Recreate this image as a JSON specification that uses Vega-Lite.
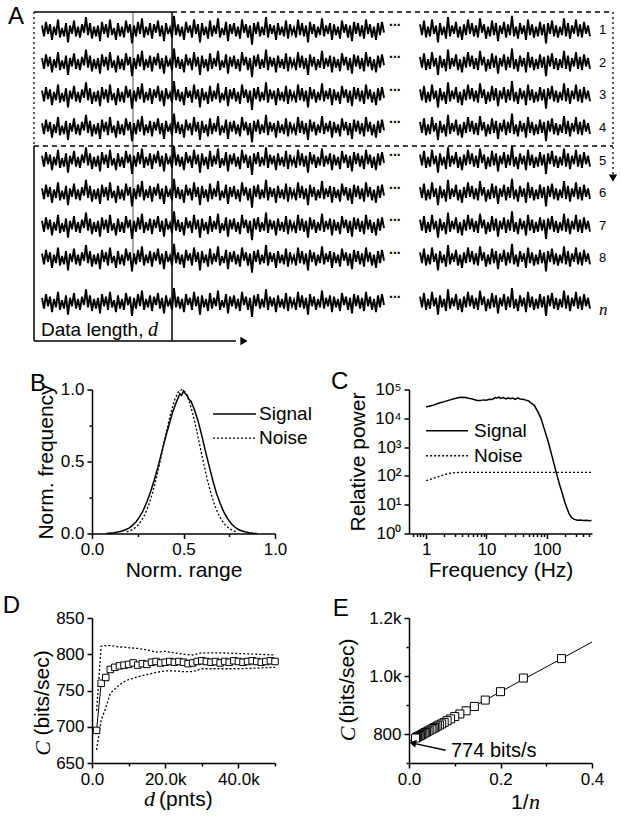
{
"$schema":"https://vega.github.io/schema/vega-lite/v6.json",
"padding":{"left":2,"top":4,"right":2,"bottom":2},
"background":"white",
"config":{
 "view":{"stroke":null},
 "font":"Liberation Sans",
 "axis":{"domainColor":"black","domainWidth":1.5,"tickColor":"black","tickWidth":1.5,"tickSize":5,"labelColor":"black","labelFont":"Liberation Sans","labelFontSize":17,"labelPadding":3,"labelFlush":false,"labelOverlap":false,"titleFont":"Liberation Sans","titleFontSize":21,"titleFontWeight":"normal","titleColor":"black","grid":false},
 "text":{"font":"Liberation Sans","color":"black"},
 "line":{"color":"black"},
 "rule":{"color":"black"}
},
"datasets":{
 "trace":[
{"s":"L","x":4,"v":0.4},{"s":"L","x":5,"v":-0.5},{"s":"L","x":6,"v":0.7},{"s":"L","x":7,"v":-0.3},{"s":"L","x":8,"v":0.5},{"s":"L","x":9,"v":-0.8},{"s":"L","x":10,"v":0.3},{"s":"L","x":11,"v":-0.4},{"s":"L","x":12,"v":0.9},{"s":"L","x":13,"v":-0.6},{"s":"L","x":14,"v":0.2},{"s":"L","x":15,"v":-0.5},{"s":"L","x":16,"v":0.6},{"s":"L","x":17,"v":-1.0},{"s":"L","x":18,"v":0.4},{"s":"L","x":19,"v":-0.3},{"s":"L","x":20,"v":0.8},{"s":"L","x":21,"v":-0.5},{"s":"L","x":22,"v":0.3},{"s":"L","x":23,"v":-0.6},
{"s":"L","x":24,"v":0.5},{"s":"L","x":25,"v":-0.2},{"s":"L","x":26,"v":1.1},{"s":"L","x":27,"v":-0.4},{"s":"L","x":28,"v":0.6},{"s":"L","x":29,"v":-0.7},{"s":"L","x":30,"v":0.3},{"s":"L","x":31,"v":-0.5},{"s":"L","x":32,"v":0.4},{"s":"L","x":33,"v":-0.9},{"s":"L","x":34,"v":0.7},{"s":"L","x":35,"v":-0.3},{"s":"L","x":36,"v":0.5},{"s":"L","x":37,"v":-0.6},{"s":"L","x":38,"v":0.9},{"s":"L","x":39,"v":-0.4},{"s":"L","x":40,"v":0.2},{"s":"L","x":41,"v":-0.8},{"s":"L","x":42,"v":0.6},{"s":"L","x":43,"v":-0.5},
{"s":"L","x":44,"v":0.3},{"s":"L","x":45,"v":-0.6},{"s":"L","x":46,"v":0.8},{"s":"L","x":47,"v":-0.2},{"s":"L","x":48,"v":0.5},{"s":"L","x":49,"v":-1.1},{"s":"L","x":50,"v":0.4},{"s":"L","x":51,"v":-0.5},{"s":"L","x":52,"v":0.7},{"s":"L","x":53,"v":-0.3},{"s":"L","x":54,"v":1.0},{"s":"L","x":55,"v":-0.6},{"s":"L","x":56,"v":0.3},{"s":"L","x":57,"v":-0.4},{"s":"L","x":58,"v":0.6},{"s":"L","x":59,"v":-0.7},{"s":"L","x":60,"v":0.5},{"s":"L","x":61,"v":-0.2},{"s":"L","x":62,"v":0.8},{"s":"L","x":63,"v":-0.5},
{"s":"L","x":64,"v":0.4},{"s":"L","x":65,"v":-0.9},{"s":"L","x":66,"v":0.6},{"s":"L","x":67,"v":-0.3},{"s":"L","x":68,"v":0.2},{"s":"L","x":69,"v":-0.6},{"s":"L","x":70,"v":1.2},{"s":"L","x":71,"v":-0.4},{"s":"L","x":72,"v":0.5},{"s":"L","x":73,"v":-0.5},{"s":"L","x":74,"v":0.3},{"s":"L","x":75,"v":-0.8},{"s":"L","x":76,"v":0.7},{"s":"L","x":77,"v":-0.2},{"s":"L","x":78,"v":0.4},{"s":"L","x":79,"v":-0.6},{"s":"L","x":80,"v":0.9},{"s":"L","x":81,"v":-0.3},{"s":"L","x":82,"v":0.5},{"s":"L","x":83,"v":-1.0},
{"s":"L","x":84,"v":0.6},{"s":"L","x":85,"v":-0.4},{"s":"L","x":86,"v":0.3},{"s":"L","x":87,"v":-0.7},{"s":"L","x":88,"v":0.8},{"s":"L","x":89,"v":-0.5},{"s":"L","x":90,"v":0.4},{"s":"L","x":91,"v":-0.3},{"s":"L","x":92,"v":1.0},{"s":"L","x":93,"v":-0.6},{"s":"L","x":94,"v":0.2},{"s":"L","x":95,"v":-0.4},{"s":"L","x":96,"v":0.7},{"s":"L","x":97,"v":-0.9},{"s":"L","x":98,"v":0.5},{"s":"L","x":99,"v":-0.3},{"s":"L","x":100,"v":0.6},{"s":"L","x":101,"v":-0.5},{"s":"L","x":102,"v":0.3},{"s":"L","x":103,"v":-0.7},
{"s":"L","x":104,"v":0.9},{"s":"L","x":105,"v":-0.2},{"s":"L","x":106,"v":0.5},{"s":"L","x":107,"v":-0.6},{"s":"L","x":108,"v":0.4},{"s":"L","x":109,"v":-1.2},{"s":"L","x":110,"v":0.6},{"s":"L","x":111,"v":-0.3},{"s":"L","x":112,"v":0.7},{"s":"L","x":113,"v":-0.5},{"s":"L","x":114,"v":0.3},{"s":"L","x":115,"v":-0.4},{"s":"L","x":116,"v":1.1},{"s":"L","x":117,"v":-0.6},{"s":"L","x":118,"v":0.5},{"s":"L","x":119,"v":-0.3},{"s":"L","x":120,"v":0.4},{"s":"L","x":121,"v":-0.8},{"s":"L","x":122,"v":0.6},{"s":"L","x":123,"v":-0.4},
{"s":"L","x":124,"v":0.3},{"s":"L","x":125,"v":-0.5},{"s":"L","x":126,"v":0.8},{"s":"L","x":127,"v":-0.7},{"s":"L","x":128,"v":0.5},{"s":"L","x":129,"v":-0.3},{"s":"L","x":130,"v":0.2},{"s":"L","x":131,"v":-0.6},{"s":"L","x":132,"v":0.9},{"s":"L","x":133,"v":-0.4},{"s":"L","x":134,"v":0.6},{"s":"L","x":135,"v":-0.5},{"s":"L","x":136,"v":0.4},{"s":"L","x":137,"v":-1.0},{"s":"L","x":138,"v":0.7},{"s":"L","x":139,"v":-0.3},{"s":"L","x":140,"v":0.5},{"s":"L","x":141,"v":-0.6},{"s":"L","x":142,"v":0.3},{"s":"L","x":143,"v":-0.4},
{"s":"L","x":144,"v":1.0},{"s":"L","x":145,"v":-0.5},{"s":"L","x":146,"v":0.4},{"s":"L","x":147,"v":-0.3},{"s":"L","x":148,"v":0.6},{"s":"L","x":149,"v":-0.8},{"s":"L","x":150,"v":0.5},{"s":"L","x":151,"v":-0.4},{"s":"L","x":152,"v":0.3},{"s":"L","x":153,"v":-0.7},{"s":"L","x":154,"v":0.8},{"s":"L","x":155,"v":-0.2},{"s":"L","x":156,"v":0.5},{"s":"L","x":157,"v":-0.6},{"s":"L","x":158,"v":0.4},{"s":"L","x":159,"v":-0.9},{"s":"L","x":160,"v":0.7},{"s":"L","x":161,"v":-0.3},{"s":"L","x":162,"v":0.6},{"s":"L","x":163,"v":-0.5},
{"s":"L","x":164,"v":0.4},{"s":"L","x":165,"v":-0.7},{"s":"L","x":166,"v":0.9},{"s":"L","x":167,"v":-0.3},{"s":"L","x":168,"v":0.5},{"s":"L","x":169,"v":-0.6},{"s":"L","x":170,"v":0.3},{"s":"L","x":171,"v":-0.8},{"s":"L","x":172,"v":0.6},{"s":"L","x":173,"v":-0.4},{"s":"L","x":174,"v":0.7},{"s":"L","x":175,"v":-0.2},
{"s":"R","x":193,"v":0.5},{"s":"R","x":194,"v":-0.4},{"s":"R","x":195,"v":0.8},{"s":"R","x":196,"v":-0.6},{"s":"R","x":197,"v":0.3},{"s":"R","x":198,"v":-0.5},{"s":"R","x":199,"v":0.9},{"s":"R","x":200,"v":-0.3},{"s":"R","x":201,"v":0.4},{"s":"R","x":202,"v":-1.0},{"s":"R","x":203,"v":0.6},{"s":"R","x":204,"v":-0.4},{"s":"R","x":205,"v":0.3},{"s":"R","x":206,"v":-0.7},{"s":"R","x":207,"v":1.1},{"s":"R","x":208,"v":-0.5},{"s":"R","x":209,"v":0.4},{"s":"R","x":210,"v":-0.3},{"s":"R","x":211,"v":0.7},{"s":"R","x":212,"v":-0.6},
{"s":"R","x":213,"v":0.3},{"s":"R","x":214,"v":-0.8},{"s":"R","x":215,"v":0.5},{"s":"R","x":216,"v":-0.4},{"s":"R","x":217,"v":0.9},{"s":"R","x":218,"v":-0.3},{"s":"R","x":219,"v":0.6},{"s":"R","x":220,"v":-0.5},{"s":"R","x":221,"v":0.4},{"s":"R","x":222,"v":-0.6},{"s":"R","x":223,"v":1.0},{"s":"R","x":224,"v":-0.2},{"s":"R","x":225,"v":0.5},{"s":"R","x":226,"v":-0.7},{"s":"R","x":227,"v":0.3},{"s":"R","x":228,"v":-0.5},{"s":"R","x":229,"v":0.8},{"s":"R","x":230,"v":-0.4},{"s":"R","x":231,"v":0.6},{"s":"R","x":232,"v":-0.9},
{"s":"R","x":233,"v":0.4},{"s":"R","x":234,"v":-0.3},{"s":"R","x":235,"v":0.7},{"s":"R","x":236,"v":-0.6},{"s":"R","x":237,"v":0.5},{"s":"R","x":238,"v":-0.4},{"s":"R","x":239,"v":1.2},{"s":"R","x":240,"v":-0.5},{"s":"R","x":241,"v":0.3},{"s":"R","x":242,"v":-0.7},{"s":"R","x":243,"v":0.6},{"s":"R","x":244,"v":-0.3},{"s":"R","x":245,"v":0.4},{"s":"R","x":246,"v":-0.8},{"s":"R","x":247,"v":0.9},{"s":"R","x":248,"v":-0.4},{"s":"R","x":249,"v":0.5},{"s":"R","x":250,"v":-0.6},{"s":"R","x":251,"v":0.3},{"s":"R","x":252,"v":-0.5},
{"s":"R","x":253,"v":0.7},{"s":"R","x":254,"v":-0.4},{"s":"R","x":255,"v":0.5},{"s":"R","x":256,"v":-1.1},{"s":"R","x":257,"v":0.6},{"s":"R","x":258,"v":-0.3},{"s":"R","x":259,"v":0.8},{"s":"R","x":260,"v":-0.5},{"s":"R","x":261,"v":0.4},{"s":"R","x":262,"v":-0.6},{"s":"R","x":263,"v":0.3},{"s":"R","x":264,"v":-0.4},{"s":"R","x":265,"v":1.0},{"s":"R","x":266,"v":-0.5},{"s":"R","x":267,"v":0.6},{"s":"R","x":268,"v":-0.7},{"s":"R","x":269,"v":0.4},{"s":"R","x":270,"v":-0.3},{"s":"R","x":271,"v":0.9},{"s":"R","x":272,"v":-0.5},
{"s":"R","x":273,"v":0.5},{"s":"R","x":274,"v":-0.6},{"s":"R","x":275,"v":0.7},{"s":"R","x":276,"v":-0.3},{"s":"R","x":277,"v":0.4},{"s":"R","x":278,"v":-0.5}
 ],
 "dmean":[
{"d":1250,"c":695},{"d":2500,"c":760},{"d":3750,"c":768},{"d":5000,"c":779},{"d":6250,"c":782},{"d":7500,"c":784},{"d":8750,"c":785},{"d":10000,"c":786},{"d":11250,"c":788},{"d":12500,"c":785},{"d":13750,"c":787},{"d":15000,"c":786},{"d":16250,"c":789},{"d":17500,"c":790},{"d":18750,"c":788},{"d":20000,"c":789},{"d":21250,"c":790},{"d":22500,"c":789},{"d":23750,"c":790},{"d":25000,"c":789},{"d":26250,"c":787},{"d":27500,"c":788},{"d":28750,"c":790},{"d":30000,"c":791},{"d":31250,"c":790},{"d":32500,"c":789},{"d":33750,"c":790},{"d":35000,"c":788},{"d":36250,"c":790},{"d":37500,"c":789},{"d":38750,"c":791},{"d":40000,"c":790},{"d":41250,"c":789},{"d":42500,"c":790},{"d":43750,"c":791},{"d":45000,"c":790},{"d":46250,"c":789},{"d":47500,"c":790},{"d":48750,"c":791},{"d":50000,"c":790}
 ]
},
"bounds":"flush",
"spacing":47.5,
"vconcat":[
 {
  "width":580,"height":330,
  "resolve":{"scale":{"y":"independent"}},
  "layer":[
   {"data":{"name":"trace"},"mark":{"type":"line","strokeWidth":1.9},"encoding":{"x":{"field":"x","type":"quantitative","scale":{"domain":[0,290],"nice":false,"zero":false},"axis":null},"y":{"field":"v","type":"quantitative","scale":{"domain":[-25.975,1.525],"nice":false,"zero":false},"axis":null},"detail":{"field":"s"}}},
   {"data":{"name":"trace"},"mark":{"type":"line","strokeWidth":1.9},"encoding":{"x":{"field":"x","type":"quantitative","scale":{"domain":[0,290],"nice":false,"zero":false},"axis":null},"y":{"field":"v","type":"quantitative","scale":{"domain":[-23.261,4.239],"nice":false,"zero":false},"axis":null},"detail":{"field":"s"}}},
   {"data":{"name":"trace"},"mark":{"type":"line","strokeWidth":1.9},"encoding":{"x":{"field":"x","type":"quantitative","scale":{"domain":[0,290],"nice":false,"zero":false},"axis":null},"y":{"field":"v","type":"quantitative","scale":{"domain":[-20.546,6.954],"nice":false,"zero":false},"axis":null},"detail":{"field":"s"}}},
   {"data":{"name":"trace"},"mark":{"type":"line","strokeWidth":1.9},"encoding":{"x":{"field":"x","type":"quantitative","scale":{"domain":[0,290],"nice":false,"zero":false},"axis":null},"y":{"field":"v","type":"quantitative","scale":{"domain":[-17.832,9.668],"nice":false,"zero":false},"axis":null},"detail":{"field":"s"}}},
   {"data":{"name":"trace"},"mark":{"type":"line","strokeWidth":1.9},"encoding":{"x":{"field":"x","type":"quantitative","scale":{"domain":[0,290],"nice":false,"zero":false},"axis":null},"y":{"field":"v","type":"quantitative","scale":{"domain":[-15.118,12.382],"nice":false,"zero":false},"axis":null},"detail":{"field":"s"}}},
   {"data":{"name":"trace"},"mark":{"type":"line","strokeWidth":1.9},"encoding":{"x":{"field":"x","type":"quantitative","scale":{"domain":[0,290],"nice":false,"zero":false},"axis":null},"y":{"field":"v","type":"quantitative","scale":{"domain":[-12.404,15.096],"nice":false,"zero":false},"axis":null},"detail":{"field":"s"}}},
   {"data":{"name":"trace"},"mark":{"type":"line","strokeWidth":1.9},"encoding":{"x":{"field":"x","type":"quantitative","scale":{"domain":[0,290],"nice":false,"zero":false},"axis":null},"y":{"field":"v","type":"quantitative","scale":{"domain":[-9.689,17.811],"nice":false,"zero":false},"axis":null},"detail":{"field":"s"}}},
   {"data":{"name":"trace"},"mark":{"type":"line","strokeWidth":1.9},"encoding":{"x":{"field":"x","type":"quantitative","scale":{"domain":[0,290],"nice":false,"zero":false},"axis":null},"y":{"field":"v","type":"quantitative","scale":{"domain":[-6.975,20.525],"nice":false,"zero":false},"axis":null},"detail":{"field":"s"}}},
   {"data":{"name":"trace"},"mark":{"type":"line","strokeWidth":1.9},"encoding":{"x":{"field":"x","type":"quantitative","scale":{"domain":[0,290],"nice":false,"zero":false},"axis":null},"y":{"field":"v","type":"quantitative","scale":{"domain":[-3.283,24.217],"nice":false,"zero":false},"axis":null},"detail":{"field":"s"}}},
   {"data":{"values":[{"x":0,"x2":69,"y":0.4382,"y2":0.4382},{"x":0,"x2":0,"y":4.552,"y2":10.539},{"x":69,"x2":69,"y":0.4382,"y2":10.539},{"x":0,"x2":101,"y":10.539,"y2":10.539}]},
    "mark":{"type":"rule","strokeWidth":1.5},
    "encoding":{"x":{"field":"x","type":"quantitative","scale":{"domain":[0,290],"nice":false,"zero":false},"axis":null},"x2":{"field":"x2"},"y":{"field":"y","type":"quantitative","scale":{"domain":[0.4382,10.57],"nice":false,"zero":false,"reverse":true},"axis":null},"y2":{"field":"y2"}}},
   {"data":{"values":[{"x":69,"x2":289.5,"y":0.4382,"y2":0.4382},{"x":0,"x2":289.5,"y":4.552,"y2":4.552}]},
    "mark":{"type":"rule","strokeWidth":1.3,"strokeDash":[5,4]},
    "encoding":{"x":{"field":"x","type":"quantitative","scale":{"domain":[0,290],"nice":false,"zero":false},"axis":null},"x2":{"field":"x2"},"y":{"field":"y","type":"quantitative","scale":{"domain":[0.4382,10.57],"nice":false,"zero":false,"reverse":true},"axis":null},"y2":{"field":"y2"}}},
   {"data":{"values":[{"x":0,"x2":0,"y":0.4382,"y2":4.552},{"x":289.5,"x2":289.5,"y":0.4382,"y2":5.45}]},
    "mark":{"type":"rule","strokeWidth":1.3,"strokeDash":[2,3]},
    "encoding":{"x":{"field":"x","type":"quantitative","scale":{"domain":[0,290],"nice":false,"zero":false},"axis":null},"x2":{"field":"x2"},"y":{"field":"y","type":"quantitative","scale":{"domain":[0.4382,10.57],"nice":false,"zero":false,"reverse":true},"axis":null},"y2":{"field":"y2"}}},
   {"data":{"values":[{"x":49.5,"x2":49.5,"y":0.4382,"y2":7.9}]},
    "mark":{"type":"rule","strokeWidth":0.7},
    "encoding":{"x":{"field":"x","type":"quantitative","scale":{"domain":[0,290],"nice":false,"zero":false},"axis":null},"x2":{"field":"x2"},"y":{"field":"y","type":"quantitative","scale":{"domain":[0.4382,10.57],"nice":false,"zero":false,"reverse":true},"axis":null},"y2":{"field":"y2"}}},
   {"data":{"values":[{"x":289.5,"y":5.535,"sh":"triangle-down"},{"x":105,"y":10.539,"sh":"triangle-right"}]},
    "mark":{"type":"point","filled":true,"color":"black","opacity":1,"size":70},
    "encoding":{"x":{"field":"x","type":"quantitative","scale":{"domain":[0,290],"nice":false,"zero":false},"axis":null},"y":{"field":"y","type":"quantitative","scale":{"domain":[0.4382,10.57],"nice":false,"zero":false,"reverse":true},"axis":null},"shape":{"field":"sh","type":"nominal","scale":null}}},
   {"data":{"values":[{"x":177.5,"y":0.86},{"x":177.5,"y":1.86},{"x":177.5,"y":2.86},{"x":177.5,"y":3.86},{"x":177.5,"y":4.86},{"x":177.5,"y":5.86},{"x":177.5,"y":6.86},{"x":177.5,"y":7.86},{"x":177.5,"y":9.22}]},
    "mark":{"type":"text","align":"left","baseline":"alphabetic","fontSize":14,"text":"...","fontWeight":"bold"},
    "encoding":{"x":{"field":"x","type":"quantitative","scale":{"domain":[0,290],"nice":false,"zero":false},"axis":null},"y":{"field":"y","type":"quantitative","scale":{"domain":[0.4382,10.57],"nice":false,"zero":false,"reverse":true},"axis":null}}},
   {"data":{"values":[{"x":282.5,"y":1,"t":"1"},{"x":282.5,"y":2,"t":"2"},{"x":282.5,"y":3,"t":"3"},{"x":282.5,"y":4,"t":"4"},{"x":282.5,"y":5,"t":"5"},{"x":282.5,"y":6,"t":"6"},{"x":282.5,"y":7,"t":"7"},{"x":282.5,"y":8,"t":"8"}]},
    "mark":{"type":"text","align":"left","baseline":"middle","fontSize":13},
    "encoding":{"x":{"field":"x","type":"quantitative","scale":{"domain":[0,290],"nice":false,"zero":false},"axis":null},"y":{"field":"y","type":"quantitative","scale":{"domain":[0.4382,10.57],"nice":false,"zero":false,"reverse":true},"axis":null},"text":{"field":"t"}}},
   {"data":{"values":[{"x":282.5,"y":9.6,"t":"n"}]},
    "mark":{"type":"text","align":"left","baseline":"middle","fontSize":17,"font":"Liberation Serif","fontStyle":"italic"},
    "encoding":{"x":{"field":"x","type":"quantitative","scale":{"domain":[0,290],"nice":false,"zero":false},"axis":null},"y":{"field":"y","type":"quantitative","scale":{"domain":[0.4382,10.57],"nice":false,"zero":false,"reverse":true},"axis":null},"text":{"field":"t"}}},
   {"data":{"values":[{"x":3.5,"y":10.386,"t":"Data length,"}]},
    "mark":{"type":"text","align":"left","baseline":"alphabetic","fontSize":19},
    "encoding":{"x":{"field":"x","type":"quantitative","scale":{"domain":[0,290],"nice":false,"zero":false},"axis":null},"y":{"field":"y","type":"quantitative","scale":{"domain":[0.4382,10.57],"nice":false,"zero":false,"reverse":true},"axis":null},"text":{"field":"t"}}},
   {"data":{"values":[{"x":57,"y":10.386,"t":"d"}]},
    "mark":{"type":"text","align":"left","baseline":"alphabetic","fontSize":20,"font":"Liberation Serif","fontStyle":"italic"},
    "encoding":{"x":{"field":"x","type":"quantitative","scale":{"domain":[0,290],"nice":false,"zero":false},"axis":null},"y":{"field":"y","type":"quantitative","scale":{"domain":[0.4382,10.57],"nice":false,"zero":false,"reverse":true},"axis":null},"text":{"field":"t"}}},
   {"data":{"values":[{"x":-13,"y":0.797,"t":"A"}]},
    "mark":{"type":"text","align":"left","baseline":"alphabetic","fontSize":24},
    "encoding":{"x":{"field":"x","type":"quantitative","scale":{"domain":[0,290],"nice":false,"zero":false},"axis":null},"y":{"field":"y","type":"quantitative","scale":{"domain":[0.4382,10.57],"nice":false,"zero":false,"reverse":true},"axis":null},"text":{"field":"t"}}}
  ]
 },
 {
  "bounds":"flush",
  "spacing":228.5,
  "vconcat":[
   {
    "bounds":"flush","spacing":0,
    "hconcat":[
     {"width":58,"height":10,"data":{"values":[]},"mark":{"type":"point","opacity":0}},
     {
      "bounds":"flush","spacing":134,
      "hconcat":[
       {
        "width":183,"height":144,
        "encoding":{
         "x":{"field":"x","type":"quantitative","scale":{"domain":[0,1],"nice":false,"zero":false},"axis":{"title":"Norm. range","values":[0,0.25,0.5,0.75,1],"labelExpr":"datum.value==0.25||datum.value==0.75?'':format(datum.value,'.1f')","tickSize":{"condition":{"test":"datum.value==0.25||datum.value==0.75","value":3},"value":5},"titlePadding":2}},
         "y":{"field":"y","type":"quantitative","scale":{"domain":[0,1],"nice":false,"zero":false},"axis":{"title":"Norm. frequency","values":[0,0.25,0.5,0.75,1],"labelExpr":"datum.value==0.25||datum.value==0.75?'':format(datum.value,'.1f')","tickSize":{"condition":{"test":"datum.value==0.25||datum.value==0.75","value":3},"value":5},"titlePadding":4}}
        },
        "layer":[
         {"data":{"values":[{"x":0.08,"y":0},{"x":0.1,"y":0.003},{"x":0.12,"y":0.006},{"x":0.14,"y":0.01},{"x":0.16,"y":0.016},{"x":0.18,"y":0.024},{"x":0.2,"y":0.036},{"x":0.22,"y":0.055},{"x":0.24,"y":0.08},{"x":0.26,"y":0.115},{"x":0.28,"y":0.16},{"x":0.3,"y":0.22},{"x":0.32,"y":0.29},{"x":0.34,"y":0.37},{"x":0.36,"y":0.46},{"x":0.38,"y":0.56},{"x":0.4,"y":0.66},{"x":0.42,"y":0.75},{"x":0.44,"y":0.84},{"x":0.46,"y":0.91},{"x":0.47,"y":0.94},{"x":0.48,"y":0.97},{"x":0.49,"y":0.96},{"x":0.5,"y":0.99},{"x":0.51,"y":0.97},{"x":0.52,"y":0.96},{"x":0.53,"y":0.93},{"x":0.54,"y":0.92},{"x":0.56,"y":0.86},{"x":0.58,"y":0.78},{"x":0.6,"y":0.68},{"x":0.62,"y":0.57},{"x":0.64,"y":0.47},{"x":0.66,"y":0.37},{"x":0.68,"y":0.28},{"x":0.7,"y":0.21},{"x":0.72,"y":0.15},{"x":0.74,"y":0.105},{"x":0.76,"y":0.07},{"x":0.78,"y":0.045},{"x":0.8,"y":0.028},{"x":0.82,"y":0.017},{"x":0.84,"y":0.01},{"x":0.86,"y":0.005},{"x":0.88,"y":0.002},{"x":0.9,"y":0}]},
          "mark":{"type":"line","strokeWidth":1.5}},
         {"data":{"values":[{"x":0.19,"y":0.011},{"x":0.21,"y":0.02},{"x":0.23,"y":0.034},{"x":0.25,"y":0.056},{"x":0.27,"y":0.089},{"x":0.29,"y":0.135},{"x":0.31,"y":0.198},{"x":0.33,"y":0.278},{"x":0.35,"y":0.375},{"x":0.37,"y":0.487},{"x":0.39,"y":0.607},{"x":0.41,"y":0.726},{"x":0.43,"y":0.835},{"x":0.45,"y":0.923},{"x":0.47,"y":0.98},{"x":0.49,"y":1.0},{"x":0.51,"y":0.98},{"x":0.53,"y":0.923},{"x":0.55,"y":0.835},{"x":0.57,"y":0.726},{"x":0.59,"y":0.607},{"x":0.61,"y":0.487},{"x":0.63,"y":0.375},{"x":0.65,"y":0.278},{"x":0.67,"y":0.198},{"x":0.69,"y":0.135},{"x":0.71,"y":0.089},{"x":0.73,"y":0.056},{"x":0.75,"y":0.034},{"x":0.77,"y":0.02},{"x":0.79,"y":0.011}]},
          "mark":{"type":"line","strokeWidth":1.3,"strokeDash":[2,2]}},
         {"data":{"values":[{"x":0.661,"x2":0.896,"y":0.83}]},"mark":{"type":"rule","strokeWidth":1.5},"encoding":{"x2":{"field":"x2"}}},
         {"data":{"values":[{"x":0.661,"x2":0.896,"y":0.663}]},"mark":{"type":"rule","strokeWidth":1.3,"strokeDash":[2,2]},"encoding":{"x2":{"field":"x2"}}},
         {"data":{"values":[{"x":0.913,"y":0.83,"t":"Signal"},{"x":0.913,"y":0.663,"t":"Noise"}]},"mark":{"type":"text","align":"left","baseline":"middle","fontSize":19},"encoding":{"text":{"field":"t"}}},
         {"data":{"values":[{"x":-0.3388,"y":0.9896,"t":"B"}]},"mark":{"type":"text","align":"left","baseline":"alphabetic","fontSize":24},"encoding":{"text":{"field":"t"}}}
        ]
       },
       {
        "width":183,"height":144,
        "encoding":{
         "x":{"field":"f","type":"quantitative","scale":{"type":"log","domain":[0.52,560],"nice":false},"axis":{"title":"Frequency (Hz)","values":[0.6,0.7,0.8,0.9,1,2,3,4,5,6,7,8,9,10,20,30,40,50,60,70,80,90,100,200,300,400,500],"labelExpr":"datum.value==1||datum.value==10||datum.value==100?format(datum.value,'d'):''","tickSize":{"condition":{"test":"datum.value!=1&&datum.value!=10&&datum.value!=100","value":3},"value":5},"titlePadding":2}},
         "y":{"field":"p","type":"quantitative","scale":{"type":"log","domain":[1,100000],"nice":false},"axis":{"title":"Relative power","values":[1,10,100,1000,10000,100000],"labelExpr":"'10'+['⁰','¹','²','³','⁴','⁵'][round(log(datum.value)/LN10)]","titlePadding":6}}
        },
        "layer":[
         {"data":{"values":[{"f":1,"p":24500},{"f":1.3,"p":28200},{"f":1.6,"p":33100},{"f":2,"p":38000},{"f":2.5,"p":43600},{"f":3,"p":49000},{"f":3.5,"p":52500},{"f":4,"p":53700},{"f":4.5,"p":52500},{"f":5,"p":50100},{"f":6,"p":45700},{"f":7,"p":41700},{"f":8,"p":41700},{"f":9,"p":43600},{"f":10,"p":42700},{"f":11,"p":45700},{"f":12,"p":44700},{"f":13,"p":47900},{"f":14,"p":52500},{"f":15,"p":50100},{"f":16,"p":55000},{"f":17,"p":49000},{"f":19,"p":52500},{"f":21,"p":46800},{"f":23,"p":51300},{"f":25,"p":47900},{"f":27,"p":50100},{"f":30,"p":45700},{"f":33,"p":51300},{"f":36,"p":46800},{"f":40,"p":45700},{"f":45,"p":42700},{"f":50,"p":39800},{"f":55,"p":33900},{"f":62,"p":28200},{"f":70,"p":17800},{"f":80,"p":10000},{"f":90,"p":4470},{"f":104,"p":1700},{"f":118,"p":631},{"f":134,"p":224},{"f":148,"p":100},{"f":162,"p":51.3},{"f":180,"p":25.1},{"f":196,"p":13.5},{"f":215,"p":7.59},{"f":237,"p":4.57},{"f":260,"p":3.47},{"f":287,"p":3.09},{"f":320,"p":2.88},{"f":360,"p":2.95},{"f":400,"p":2.82},{"f":450,"p":2.88},{"f":500,"p":2.75},{"f":550,"p":2.82}]},
          "mark":{"type":"line","strokeWidth":1.5}},
         {"data":{"values":[{"f":1,"p":68},{"f":1.5,"p":90},{"f":2,"p":110},{"f":2.5,"p":124},{"f":3,"p":130},{"f":4,"p":132},{"f":10,"p":132},{"f":100,"p":132},{"f":550,"p":132}]},
          "mark":{"type":"line","strokeWidth":1.3,"strokeDash":[2,2]}},
         {"data":{"values":[{"f":1.0,"f2":4.94,"p":3724}]},"mark":{"type":"rule","strokeWidth":1.5},"encoding":{"x2":{"field":"f2"}}},
         {"data":{"values":[{"f":1.0,"f2":4.94,"p":501}]},"mark":{"type":"rule","strokeWidth":1.3,"strokeDash":[2,2]},"encoding":{"x2":{"field":"f2"}}},
         {"data":{"values":[{"f":6.21,"p":3724,"t":"Signal"},{"f":6.21,"p":501,"t":"Noise"}]},"mark":{"type":"text","align":"left","baseline":"middle","fontSize":19},"encoding":{"text":{"field":"t"}}},
         {"data":{"values":[{"f":0.0265,"p":105700,"t":"C"}]},"mark":{"type":"text","align":"left","baseline":"alphabetic","fontSize":24},"encoding":{"text":{"field":"t"}}}
        ]
       }
      ]
     }
    ]
   },
   {
    "bounds":"flush","spacing":0,
    "hconcat":[
     {"width":58,"height":10,"data":{"values":[]},"mark":{"type":"point","opacity":0}},
     {
      "bounds":"flush","spacing":134,
      "hconcat":[
       {
        "width":183,"height":145,
        "encoding":{
         "x":{"field":"d","type":"quantitative","scale":{"domain":[0,50000],"nice":false,"zero":false},"axis":{"title":null,"values":[0,10000,20000,30000,40000,50000],"labelExpr":"datum.value==0?'0.0':datum.value==20000?'20.0k':datum.value==40000?'40.0k':''","tickSize":{"condition":{"test":"datum.value==10000||datum.value==30000||datum.value==50000","value":3},"value":5}}},
         "y":{"field":"c","type":"quantitative","scale":{"domain":[650,850],"nice":false,"zero":false},"axis":{"title":null,"values":[650,700,750,800,850]}}
        },
        "layer":[
         {"data":{"values":[{"d":1250,"c":722},{"d":2500,"c":811},{"d":3750,"c":812},{"d":5000,"c":812},{"d":6250,"c":811},{"d":7500,"c":810},{"d":8750,"c":810},{"d":10000,"c":809},{"d":12500,"c":808},{"d":15000,"c":806},{"d":17500,"c":803},{"d":20000,"c":804},{"d":22500,"c":802},{"d":25000,"c":800},{"d":27500,"c":799},{"d":30000,"c":802},{"d":35000,"c":802},{"d":40000,"c":801},{"d":45000,"c":800},{"d":50000,"c":799}]},
          "mark":{"type":"line","strokeWidth":1.3,"strokeDash":[2,2]}},
         {"data":{"values":[{"d":1250,"c":668},{"d":2500,"c":709},{"d":3750,"c":726},{"d":5000,"c":746},{"d":6250,"c":752},{"d":7500,"c":758},{"d":8750,"c":762},{"d":10000,"c":765},{"d":12500,"c":769},{"d":15000,"c":772},{"d":17500,"c":775},{"d":20000,"c":777},{"d":22500,"c":777},{"d":25000,"c":776},{"d":27500,"c":776},{"d":30000,"c":780},{"d":35000,"c":780},{"d":40000,"c":780},{"d":45000,"c":781},{"d":50000,"c":782}]},
          "mark":{"type":"line","strokeWidth":1.3,"strokeDash":[2,2]}},
         {"data":{"name":"dmean"},"mark":{"type":"line","strokeWidth":1}},
         {"data":{"name":"dmean"},"mark":{"type":"point","shape":"square","size":42,"filled":true,"fill":"white","stroke":"black","strokeWidth":1,"opacity":1}},
         {"data":{"values":[{"d":-13388,"c":746.6,"t":"(bits/sec)"}]},"mark":{"type":"text","align":"center","baseline":"middle","angle":270,"fontSize":21},"encoding":{"text":{"field":"t"}}},
         {"data":{"values":[{"d":-13388,"c":670.3,"t":"C"}]},"mark":{"type":"text","align":"center","baseline":"middle","angle":270,"fontSize":22,"font":"Liberation Serif","fontStyle":"italic"},"encoding":{"text":{"field":"t"}}},
         {"data":{"values":[{"d":14208,"c":590.7,"t":"d"}]},"mark":{"type":"text","align":"left","baseline":"alphabetic","fontSize":22,"font":"Liberation Serif","fontStyle":"italic"},"encoding":{"text":{"field":"t"}}},
         {"data":{"values":[{"d":18306,"c":590.7,"t":"(pnts)"}]},"mark":{"type":"text","align":"left","baseline":"alphabetic","fontSize":21},"encoding":{"text":{"field":"t"}}},
         {"data":{"values":[{"d":-24399,"c":857.3,"t":"D"}]},"mark":{"type":"text","align":"left","baseline":"alphabetic","fontSize":24},"encoding":{"text":{"field":"t"}}}
        ]
       },
       {
        "width":183,"height":145,
        "encoding":{
         "x":{"field":"x","type":"quantitative","scale":{"domain":[0,0.4],"nice":false,"zero":false},"axis":{"title":null,"values":[0,0.1,0.2,0.3,0.4],"labelExpr":"datum.value==0.1||datum.value==0.3?'':format(datum.value,'.1f')","tickSize":{"condition":{"test":"datum.value==0.1||datum.value==0.3","value":3},"value":5}}},
         "y":{"field":"c","type":"quantitative","scale":{"domain":[700,1200],"nice":false,"zero":false},"axis":{"title":null,"values":[700,800,900,1000,1100,1200],"labelExpr":"datum.value==800?'800':datum.value==1000?'1.0k':datum.value==1200?'1.2k':''","tickSize":{"condition":{"test":"datum.value==700||datum.value==900||datum.value==1100","value":3},"value":5}}}
        },
        "layer":[
         {"data":{"values":[{"x":0,"c":774},{"x":0.4,"c":1117}]},"mark":{"type":"line","strokeWidth":1}},
         {"data":{"values":[{"x":0.3333,"c":1060},{"x":0.25,"c":993},{"x":0.2,"c":946},{"x":0.1667,"c":917},{"x":0.1429,"c":895},{"x":0.125,"c":880},{"x":0.1111,"c":869},{"x":0.1,"c":860},{"x":0.0909,"c":852},{"x":0.0833,"c":846},{"x":0.0769,"c":840},{"x":0.0714,"c":835},{"x":0.0667,"c":831},{"x":0.0625,"c":828},{"x":0.0588,"c":824},{"x":0.0556,"c":822},{"x":0.0526,"c":819},{"x":0.05,"c":817},{"x":0.0455,"c":813},{"x":0.0417,"c":810},{"x":0.0385,"c":807},{"x":0.0357,"c":805},{"x":0.0333,"c":803},{"x":0.0303,"c":800},{"x":0.0278,"c":798},{"x":0.025,"c":795},{"x":0.0222,"c":793},{"x":0.02,"c":791},{"x":0.0182,"c":790},{"x":0.0167,"c":788},{"x":0.0143,"c":786}]},
          "mark":{"type":"point","shape":"square","size":64,"filled":true,"fill":"white","stroke":"black","strokeWidth":1,"opacity":1}},
         {"data":{"values":[{"x":0.08,"x2":0.008,"c":744,"c2":768.5}]},"mark":{"type":"rule","strokeWidth":1.5},"encoding":{"x2":{"field":"x2"},"y2":{"field":"c2"}}},
         {"data":{"values":[{"x":0.008,"c":768.5}]},"mark":{"type":"point","shape":"triangle-left","size":60,"filled":true,"color":"black","opacity":1,"angle":12}},
         {"data":{"values":[{"x":0.0918,"c":741.4,"t":"774 bits/s"}]},"mark":{"type":"text","align":"left","baseline":"middle","fontSize":20},"encoding":{"text":{"field":"t"}}},
         {"data":{"values":[{"x":-0.1333,"c":982.8,"t":"(bits/sec)"}]},"mark":{"type":"text","align":"center","baseline":"middle","angle":270,"fontSize":21},"encoding":{"text":{"field":"t"}}},
         {"data":{"values":[{"x":-0.1333,"c":800,"t":"C"}]},"mark":{"type":"text","align":"center","baseline":"middle","angle":270,"fontSize":22,"font":"Liberation Serif","fontStyle":"italic"},"encoding":{"text":{"field":"t"}}},
         {"data":{"values":[{"x":0.223,"c":541.4,"t":"1/"}]},"mark":{"type":"text","align":"left","baseline":"alphabetic","fontSize":21},"encoding":{"text":{"field":"t"}}},
         {"data":{"values":[{"x":0.2623,"c":541.4,"t":"n"}]},"mark":{"type":"text","align":"left","baseline":"alphabetic","fontSize":22,"font":"Liberation Serif","fontStyle":"italic"},"encoding":{"text":{"field":"t"}}},
         {"data":{"values":[{"x":-0.1668,"c":1206.9,"t":"E"}]},"mark":{"type":"text","align":"left","baseline":"alphabetic","fontSize":24},"encoding":{"text":{"field":"t"}}}
        ]
       }
      ]
     }
    ]
   }
  ]
 }
]
}
